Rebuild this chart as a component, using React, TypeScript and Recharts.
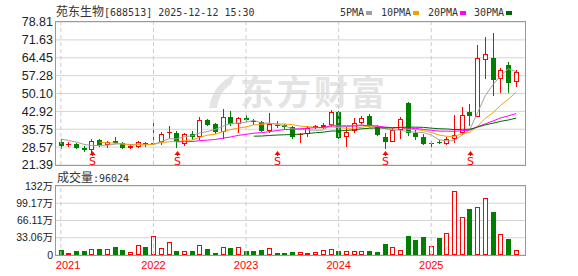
import { ComposedChart, Bar, Line, XAxis, YAxis, CartesianGrid, ReferenceLine, ReferenceDot } from "recharts";

// monthly K-line, 2021-01 .. 2025-12
const years = ["2021", "2022", "2023", "2024", "2025"];
const monthNums = ["01", "02", "03", "04", "05", "06", "07", "08", "09", "10", "11", "12"];
const months = years.flatMap((y) => monthNums.map((mm) => `${y}-${mm}`));
const yearStarts = years.map((y) => `${y}-01`);

const opens = [
    30.5, 29.6, 29.9, 28.3, 27.6, 31.4, 29.6, 31.0, 30.4, 28.2, 28.6, 30.4,
    29.7, 30.5, 34.1, 34.3, 29.9, 33.9, 32.7, 39.6, 37.8, 34.8, 40.6, 37.9,
    40.3, 38.9, 38.5, 35.1, 37.6, 37.3, 36.5, 33.6, 34.0, 36.6, 36.7, 37.3,
    42.6, 32.5, 35.2, 38.3, 41.0, 36.5, 32.7, 30.8, 35.5, 46.4, 34.3, 32.6,
    30.0, 30.7, 30.0, 31.8, 34.3, 42.8, 40.8, 63.7, 64.5, 56.1, 61.5, 54.8,
];
const closes = [
    29.2, 29.9, 28.4, 27.4, 31.1, 29.4, 30.5, 30.4, 28.4, 29.0, 30.7, 29.8,
    30.4, 33.9, 34.75, 30.5, 33.9, 32.75, 39.4, 37.6, 34.6, 40.6, 37.9, 40.3,
    39.4, 38.5, 35.1, 37.8, 37.6, 36.6, 32.75, 34.0, 36.3, 36.9, 37.3, 42.8,
    32.4, 34.75, 38.1, 40.3, 37.4, 33.4, 30.8, 35.35, 39.9, 34.3, 32.6, 30.0,
    30.3, 30.4, 32.0, 33.3, 41.3, 41.0, 64.5, 65.9, 55.5, 59.7, 54.4, 58.8,
];
const highs = [
    31.7, 30.8, 30.2, 28.9, 31.7, 31.9, 31.2, 32.6, 30.7, 30.0, 31.1, 30.8,
    38.1, 34.6, 37.2, 35.1, 34.3, 35.0, 40.5, 40.0, 38.3, 43.7, 42.9, 40.7,
    41.5, 39.8, 38.9, 42.2, 39.2, 37.8, 37.0, 34.4, 36.9, 37.6, 38.2, 43.4,
    42.9, 36.8, 40.1, 41.2, 42.0, 37.6, 34.1, 36.3, 40.5, 46.6, 35.5, 33.8,
    31.2, 31.5, 32.7, 41.3, 44.7, 45.9, 69.5, 72.8, 74.4, 60.5, 62.8, 59.7,
];
const lows = [
    28.0, 28.6, 28.0, 26.7, 25.9, 28.5, 28.1, 29.8, 28.0, 28.0, 28.4, 28.8,
    29.3, 29.5, 32.1, 28.4, 29.2, 31.4, 31.5, 37.0, 33.8, 31.7, 37.0, 34.2,
    38.5, 37.4, 34.5, 34.3, 36.1, 36.0, 31.7, 30.1, 32.5, 35.9, 36.0, 36.8,
    32.0, 28.7, 34.1, 37.6, 36.8, 32.9, 27.7, 30.5, 32.0, 33.0, 31.3, 29.4,
    28.6, 29.9, 29.4, 30.3, 33.5, 37.0, 40.5, 56.1, 49.0, 50.4, 50.4, 52.8,
];
// 成交量, 万手
const volumes = [
    9.6, 3.9, 7.7, 7.7, 10.9, 11.6, 10.9, 15.4, 9.6, 5.1, 18.6, 15.4,
    36.0, 12.8, 24.4, 7.7, 7.1, 7.7, 18.6, 11.6, 3.9, 14.8, 13.5, 14.8,
    7.7, 7.7, 9.6, 12.8, 3.9, 3.9, 5.8, 5.1, 3.9, 5.1, 9.0, 10.9,
    7.7, 7.1, 7.1, 7.1, 7.7, 5.5, 20.7, 14.5, 10.5, 36.2, 28.5, 34.6,
    18.1, 32.3, 41.7, 122.8, 72.7, 88.6, 91.8, 109.2, 82.8, 39.4, 30.4, 8.8,
];
// closes before the window (2020-09 .. 2020-12), only used to warm up the MAs
const priorCloses = [33.0, 31.5, 32.0, 33.5];
const sMarkerMonths = ["2021-05", "2022-04", "2023-05", "2024-07", "2025-06"];

const priceTickLabels = ["21.39", "28.57", "35.75", "42.92", "50.10", "57.28", "64.45", "71.63", "78.81"];
const volTickValues = [0, 33.06, 66.11, 99.17, 132.22];
const volTickLabels = ["0", "33.06万", "66.11万", "99.17万", "132万"];

const RED = "#ff0000";
const GREEN = "#008000";
const MA_COLORS = { ma5: "#a0a0a0", ma10: "#f5a000", ma20: "#ff00ff", ma30: "#006a00" };

const allCloses = [...priorCloses, ...closes];
function movingAvg(n: number, i: number) {
    const end = i + priorCloses.length;
    if (end + 1 < n) return null;
    let s = 0;
    for (let k = end - n + 1; k <= end; k++) s += allCloses[k];
    return s / n;
}

const rows = months.map((m, i) => ({
    m,
    open: opens[i],
    close: closes[i],
    high: highs[i],
    low: lows[i],
    range: [lows[i], highs[i]],
    vol: volumes[i],
    prevClose: i > 0 ? closes[i - 1] : priorCloses[priorCloses.length - 1],
    ma5: movingAvg(5, i),
    ma10: movingAvg(10, i),
    ma20: movingAvg(20, i),
    ma30: movingAvg(30, i),
}));

function Candle(props: any) {
    const { x, y, width, height, payload } = props;
    if (!payload) return null;
    const { open, close, high, low } = payload;
    const top = Math.min(y, y + height);
    const h = Math.abs(height);
    const k = high > low ? h / (high - low) : 0;
    const py = (v: number) => top + (high - v) * k;
    const ci = Math.round(x + width / 2);
    const cx = ci + 0.5;
    const up = close >= open;
    const color = up ? RED : GREEN;
    const bTop = Math.round(py(Math.max(open, close)));
    const bBot = Math.round(py(Math.min(open, close)));
    const yHigh = Math.round(py(high));
    const yLow = Math.round(py(low));
    if (up) {
        const bh = Math.max(bBot - bTop, 1);
        return (
            <g>
                <line x1={cx} x2={cx} y1={yHigh} y2={bTop} stroke={color} />
                <line x1={cx} x2={cx} y1={bTop + bh} y2={yLow} stroke={color} />
                {bh > 1 ? (
                    <rect x={ci - 1.5} y={bTop + 0.5} width={4} height={bh - 1} fill="#fff" stroke={color} />
                ) : (
                    <rect x={ci - 2} y={bTop} width={5} height={1} fill={color} />
                )}
            </g>
        );
    }
    return (
        <g>
            <line x1={cx} x2={cx} y1={yHigh} y2={yLow} stroke={color} />
            <rect x={ci - 2} y={bTop} width={5} height={Math.max(bBot - bTop, 1)} fill={color} />
        </g>
    );
}

function VolBar(props: any) {
    const { x, y, width, height, payload } = props;
    if (!payload) return null;
    const { open, close, prevClose } = payload;
    const up = close > open || (close === open && close >= prevClose);
    const top = Math.round(Math.min(y, y + height));
    const bottom = Math.round(Math.max(y, y + height));
    const ci = Math.round(x + width / 2);
    if (up) {
        return (
            <rect x={ci - 1.5} y={top + 0.5} width={4} height={Math.max(bottom - top - 1, 0.5)} fill="#fff" stroke={RED} />
        );
    }
    return <rect x={ci - 2} y={top} width={5} height={bottom - top} fill={GREEN} />;
}

function SMarker(props: any) {
    const { cx, cy } = props;
    if (cx == null || cy == null) return null;
    const c = Math.round(cx) + 0.5;
    return (
        <g>
            <path d={`M${c - 3},${cy - 10} L${c},${cy - 14} L${c + 3},${cy - 10} Z`} fill={RED} />
            <line x1={c} x2={c} y1={cy - 11} y2={cy - 9} stroke={RED} />
            <text x={c} y={cy - 0.5} textAnchor="middle" fill={RED} fontSize={11} fontFamily="DejaVu Sans">
                S
            </text>
        </g>
    );
}

function YearTick(props: any) {
    const { x, y, payload, index } = props;
    const first = index === 0;
    return (
        <text
            x={first ? x - 5 : x}
            y={y + 14}
            textAnchor={first ? "start" : "middle"}
            fill={RED}
            fontSize={11}
            fontFamily="Liberation Sans, Arial, sans-serif"
        >
            {String(payload.value).slice(0, 4)}
        </text>
    );
}

const axisFont = { fontSize: 12.5, fill: "#222", fontFamily: "Liberation Sans, Arial, sans-serif" };
const volFont = { fontSize: 10.5, fill: "#222", fontFamily: "Liberation Sans, Noto Sans CJK SC, sans-serif" };
const textStyle = { position: "absolute" as const, color: "#333", whiteSpace: "nowrap" as const, lineHeight: "14px" };
const mono = { fontFamily: "DejaVu Sans Mono, monospace", fontSize: 10 };
const cjk = { fontFamily: "Noto Sans CJK SC, sans-serif", fontSize: 12 };

const legendItems = [
    { label: "5PMA", key: "ma5", x: 340 },
    { label: "10PMA", key: "ma10", x: 381 },
    { label: "20PMA", key: "ma20", x: 428 },
    { label: "30PMA", key: "ma30", x: 474 },
] as const;

export default function App() {
    return (
        <div style={{ position: "absolute", left: 0, top: 0, width: 578, height: 276, background: "#fff", overflow: "hidden" }}>
            {/* watermark */}
            <svg style={{ position: "absolute", left: 0, top: 0 }} width={578} height={276}>
                <path d="M209,108 Q213,84 235,74 L231,84 Q219,92 217,108 Z" fill="#e4e4e4" />
                <text x={240} y={105} fontSize={34} fontWeight="bold" fill="#e4e4e4" letterSpacing={3} fontFamily="Noto Sans CJK SC, sans-serif">
                    东方财富
                </text>
            </svg>

            <div style={{ ...textStyle, left: 56, top: 4 }}>
                <span style={cjk}>苑东生物</span>
                <span style={mono}>[688513] 2025-12-12 15:30</span>
            </div>
            {legendItems.map((it) => (
                <div key={it.key} style={{ ...textStyle, left: it.x, top: 4 }}>
                    <span style={mono}>{it.label}</span>
                    <span style={{ display: "inline-block", width: 6, height: 4, marginLeft: 2, marginBottom: 1, background: MA_COLORS[it.key] }} />
                </div>
            ))}
            <div style={{ ...textStyle, left: 57, top: 170 }}>
                <span style={cjk}>成交量</span>
                <span style={mono}>:96024</span>
            </div>

            <div style={{ position: "absolute", left: 0, top: 0 }}>
                <ComposedChart width={578} height={276} data={rows} margin={{ top: 22, right: 53, bottom: 111, left: 0 }}>
                    <CartesianGrid vertical={false} stroke="#d4d4d4" />
                    <XAxis dataKey="m" type="category" hide padding={{ left: 1, right: 5 }} />
                    <YAxis
                        domain={[21.39, 78.81]}
                        ticks={priceTickLabels.map(Number)}
                        tickFormatter={(_v, i) => priceTickLabels[i]}
                        allowDataOverflow
                        width={56}
                        tickLine={false}
                        tickSize={0}
                        tickMargin={3}
                        axisLine={false}
                        tick={axisFont}
                        interval={0}
                    />
                    {yearStarts.map((m) => (
                        <ReferenceLine key={m} x={m} stroke="#cccccc" strokeDasharray="4 3" />
                    ))}
                    <Bar dataKey="range" barSize={5} shape={<Candle />} isAnimationActive={false} />
                    <Line dataKey="ma5" stroke={MA_COLORS.ma5} dot={false} strokeWidth={1} isAnimationActive={false} />
                    <Line dataKey="ma10" stroke={MA_COLORS.ma10} dot={false} strokeWidth={1} isAnimationActive={false} />
                    <Line dataKey="ma20" stroke={MA_COLORS.ma20} dot={false} strokeWidth={1} isAnimationActive={false} />
                    <Line dataKey="ma30" stroke={MA_COLORS.ma30} dot={false} strokeWidth={1} isAnimationActive={false} />
                    {sMarkerMonths.map((m) => (
                        <ReferenceDot key={m} x={m} y={21.39} r={0} shape={<SMarker />} />
                    ))}
                </ComposedChart>
            </div>

            <div style={{ position: "absolute", left: 0, top: 0 }}>
                <ComposedChart width={578} height={276} data={rows} margin={{ top: 186, right: 53, bottom: 0, left: 0 }}>
                    <CartesianGrid vertical={false} stroke="#d4d4d4" />
                    <XAxis
                        dataKey="m"
                        type="category"
                        padding={{ left: 1, right: 5 }}
                        ticks={yearStarts}
                        interval={0}
                        height={21}
                        axisLine={false}
                        tickLine={false}
                        tickSize={0}
                        tickMargin={0}
                        tick={<YearTick />}
                    />
                    <YAxis
                        domain={[0, 132.22]}
                        ticks={volTickValues}
                        tickFormatter={(_v, i) => volTickLabels[i]}
                        allowDataOverflow
                        width={56}
                        tickLine={false}
                        tickSize={0}
                        tickMargin={3}
                        axisLine={false}
                        tick={volFont}
                        interval={0}
                    />
                    {yearStarts.map((m) => (
                        <ReferenceLine key={m} x={m} stroke="#cccccc" strokeDasharray="4 3" />
                    ))}
                    <Bar dataKey="vol" barSize={5} shape={<VolBar />} isAnimationActive={false} />
                </ComposedChart>
            </div>

            {/* panel borders */}
            <div style={{ position: "absolute", left: 55, top: 21, width: 471, height: 145, border: "1px solid #999", boxSizing: "border-box" }} />
            <div style={{ position: "absolute", left: 55, top: 185, width: 471, height: 71, border: "1px solid #999", boxSizing: "border-box" }} />
        </div>
    );
}
